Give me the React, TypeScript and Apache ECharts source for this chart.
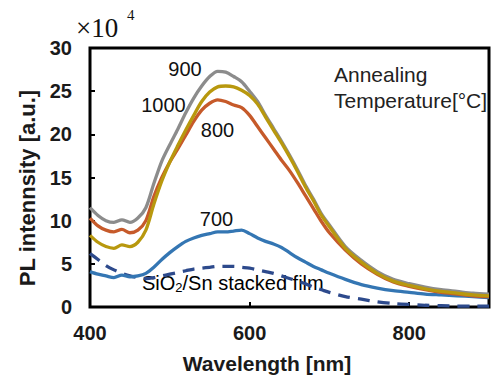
import React, { useEffect, useRef } from "react";
import * as echarts from "echarts";

const wavelengths = [400, 410, 420, 430, 440, 450, 460, 470, 480, 490, 500, 510, 520, 530, 540, 550, 560, 570, 580, 590, 600, 610, 620, 630, 640, 650, 660, 670, 680, 690, 700, 720, 740, 760, 780, 800, 820, 840, 860, 880, 900];

const pl900 = [11.5, 10.6, 10.0, 9.8, 10.1, 9.8, 10.3, 11.5, 14.3, 16.9, 18.8, 20.6, 22.5, 24.2, 25.6, 26.7, 27.3, 27.2, 26.7, 26.1, 25.0, 23.8, 22.2, 20.7, 19.2, 17.6, 15.9, 14.1, 12.5, 10.8, 9.5, 7.0, 5.4, 4.1, 3.2, 2.7, 2.3, 2.0, 1.8, 1.6, 1.5];
const pl1000 = [8.3, 7.5, 7.0, 6.8, 7.2, 7.0, 7.5, 8.9, 11.9, 14.6, 16.8, 18.7, 20.5, 22.2, 23.8, 24.9, 25.5, 25.6, 25.5, 25.1, 24.5, 23.5, 22.0, 20.5, 19.0, 17.4, 15.7, 13.9, 12.3, 10.6, 9.3, 6.8, 5.2, 3.9, 3.0, 2.5, 2.1, 1.8, 1.6, 1.4, 1.3];
const pl800 = [10.3, 9.4, 8.9, 8.7, 9.0, 8.6, 8.9, 10.0, 12.8, 15.0, 16.8, 18.3, 19.9, 21.5, 22.8, 23.6, 24.0, 23.8, 23.4, 23.1, 22.2, 20.9, 19.6, 18.3, 17.0, 15.8, 14.4, 12.9, 11.4, 9.9, 8.6, 6.6, 5.0, 3.8, 2.9, 2.4, 2.0, 1.7, 1.5, 1.3, 1.2];
const pl700 = [4.1, 3.8, 3.6, 3.4, 3.7, 3.5, 3.6, 3.9, 4.6, 5.5, 6.3, 7.0, 7.6, 8.0, 8.3, 8.5, 8.7, 8.7, 8.8, 8.9, 8.5, 8.0, 7.6, 7.3, 6.9, 6.3, 5.7, 5.2, 4.7, 4.3, 3.9, 3.2, 2.6, 2.2, 1.9, 1.7, 1.5, 1.4, 1.3, 1.2, 1.1];
const plStacked = [6.2, 5.5, 4.8, 4.3, 3.9, 3.6, 3.4, 3.3, 3.4, 3.6, 3.8, 4.0, 4.2, 4.4, 4.5, 4.6, 4.7, 4.7, 4.7, 4.6, 4.5, 4.3, 4.1, 3.9, 3.6, 3.3, 3.0, 2.7, 2.3, 2.0, 1.7, 1.2, 0.9, 0.6, 0.4, 0.3, 0.2, 0.15, 0.1, 0.1, 0.1];

const xTickLabels = [400, 600, 800];
const yTickLabels = [0, 5, 10, 15, 20, 25, 30];

const pairs = (vals: number[]) => wavelengths.map((w, i) => [w, vals[i]]);

const SANS = '"Liberation Sans", Arial, sans-serif';
const SERIF = '"Liberation Serif", "Times New Roman", serif';

export default function App() {
  const ref = useRef<HTMLDivElement>(null);
  useEffect(() => {
    document.body.style.margin = "0";
    const chart = echarts.init(ref.current!, null, { renderer: "svg" });
    const line = (name: string, vals: number[], color: string, dashed = false) => ({
      name,
      type: "line",
      data: pairs(vals),
      showSymbol: false,
      symbol: "none",
      smooth: 0.3,
      lineStyle: { color, width: 3.3, type: dashed ? [12, 8] : "solid" },
      z: 2,
    });
    chart.setOption({
      animation: false,
      backgroundColor: "#fff",
      grid: { left: 90, top: 48, right: 10, bottom: 69, show: true, borderColor: "#000", borderWidth: 3, backgroundColor: "transparent" },
      xAxis: {
        type: "value",
        min: 400,
        max: 900,
        interval: 200,
        axisLine: { show: false },
        axisTick: { show: true, inside: true, length: 5, lineStyle: { color: "#000", width: 2 } },
        splitLine: { show: false },
        axisLabel: {
          margin: 16,
          fontFamily: SANS,
          fontWeight: "bold",
          fontSize: 20,
          color: "#1a1a1a",
          formatter: (v: number) => (xTickLabels.includes(v) ? String(v) : ""),
        },
      },
      yAxis: {
        type: "value",
        min: 0,
        max: 30,
        interval: 5,
        axisLine: { show: false },
        axisTick: { show: true, inside: true, length: 5, lineStyle: { color: "#000", width: 2 } },
        splitLine: { show: false },
        axisLabel: {
          margin: 18,
          fontFamily: SANS,
          fontWeight: "bold",
          fontSize: 20,
          color: "#1a1a1a",
          formatter: (v: number) => (yTickLabels.includes(v) ? String(v) : ""),
        },
      },
      series: [
        line("SiO2/Sn stacked film", plStacked, "#2d4a8c", true),
        line("700", pl700, "#3476b3"),
        line("900", pl900, "#8c8c8c"),
        line("800", pl800, "#c65a2a"),
        line("1000", pl1000, "#b8980e"),
      ],
      graphic: [
        { type: "text", x: 76, y: 28, style: { text: "×10", font: `27px ${SERIF}`, fill: "#111", verticalAlign: "middle" } },
        { type: "text", x: 127, y: 15, style: { text: "4", font: `15px ${SERIF}`, fill: "#111", verticalAlign: "middle" } },
        { type: "text", x: 267, y: 363, style: { text: "Wavelength [nm]", font: `bold 21px ${SANS}`, fill: "#1a1a1a", align: "center", verticalAlign: "middle" } },
        { type: "text", x: 27, y: 188, rotation: Math.PI / 2, style: { text: "PL intennsity [a.u.]", font: `bold 22px ${SANS}`, fill: "#1a1a1a", align: "center", verticalAlign: "middle" } },
        { type: "text", x: 185, y: 69, style: { text: "900", font: `20px ${SANS}`, fill: "#111", align: "center", verticalAlign: "middle" } },
        { type: "text", x: 163.5, y: 105, style: { text: "1000", font: `20px ${SANS}`, fill: "#111", align: "center", verticalAlign: "middle" } },
        { type: "text", x: 217.5, y: 130, style: { text: "800", font: `20px ${SANS}`, fill: "#111", align: "center", verticalAlign: "middle" } },
        { type: "text", x: 216.5, y: 218.5, style: { text: "700", font: `20px ${SANS}`, fill: "#111", align: "center", verticalAlign: "middle" } },
        {
          type: "text",
          x: 142,
          y: 283,
          style: {
            text: "{a|SiO}{b|2}{a|/Sn stacked film}",
            verticalAlign: "middle",
            rich: {
              a: { fontFamily: SANS, fontSize: 20, color: "#111", lineHeight: 22 },
              b: { fontFamily: SANS, fontSize: 13, color: "#111", verticalAlign: "bottom", lineHeight: 14 },
            },
          },
        },
        { type: "text", x: 334, y: 74, style: { text: "Annealing", font: `21px ${SANS}`, fill: "#222", verticalAlign: "middle" } },
        { type: "text", x: 334, y: 100, style: { text: "Temperature[°C]", font: `21px ${SANS}`, fill: "#222", verticalAlign: "middle" } },
      ],
    });
    return () => chart.dispose();
  }, []);
  return <div ref={ref} style={{ position: "fixed", left: 0, top: 0, width: 499, height: 376 }} />;
}
